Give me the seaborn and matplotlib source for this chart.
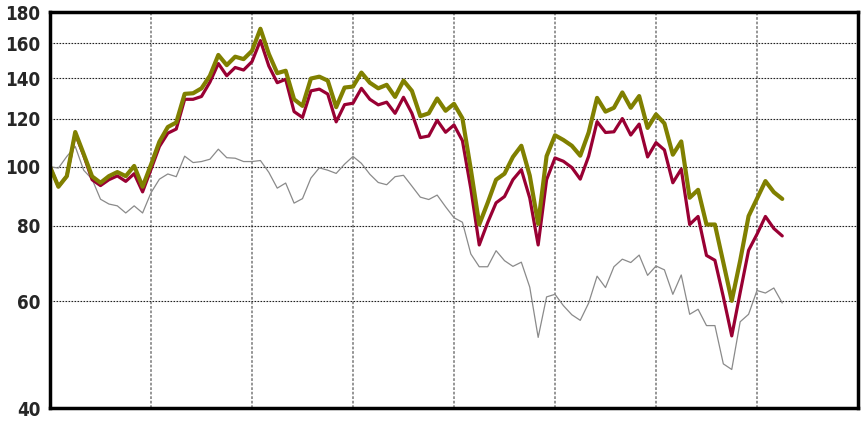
import matplotlib
matplotlib.use("Agg")
import matplotlib.pyplot as plt
from matplotlib import font_manager
from matplotlib.ticker import NullLocator, NullFormatter
import numpy as np
import pandas as pd
import seaborn as sns

# monthly index values
months = np.arange(88)

olive_vals = [100, 92.7, 96.5, 114.1, 105, 96.4, 94.1, 96.5, 98, 96.5,
              100.3, 92.7, 100.8, 110, 116.3, 118.3, 131.9, 132.2, 134.7, 141.3,
              152.9, 147.1, 151.9, 150.5, 155.3, 168.9, 153.5, 142.7, 144, 129.2,
              126.0, 139.8, 140.8, 138.7, 125.4, 135.1, 135.6, 143.0, 137.6, 134.7,
              136.5, 130.4, 138.7, 133.4, 121.2, 122.5, 129.6, 123.7, 127.0, 120.2,
              99, 80.3, 87.2, 95.2, 97.4, 103.8, 108.3, 96.7, 80.5, 104.1,
              112.7, 110.7, 108.3, 104.3, 113.9, 129.9, 123.3, 125.1, 132.6, 125.1,
              130.8, 115.9, 122, 117.9, 104.7, 110.1, 88.9, 91.6, 80.3, 80.3,
              69.5, 60.1, 70, 82.9, 88.6, 94.7, 90.8, 88.5]

red_vals = [100, 92.7, 96.5, 113.5, 104.5, 95.2, 93.1, 95.2, 96.6, 94.6,
            97.4, 90.9, 99, 108, 113.6, 115.4, 129.2, 129.2, 130.6, 137.9,
            148, 141.3, 145.8, 144.4, 149.1, 161.5, 146.6, 137.6, 139.4, 123.3,
            120.6, 133.4, 134.3, 131.8, 118.6, 126.6, 127.3, 134.7, 129.2, 126.5,
            127.8, 122.5, 130.2, 122.5, 111.7, 112.4, 119.3, 114.0, 117.2, 110.4,
            92, 74.3, 80.9, 87.2, 89.3, 95.2, 98.9, 88.8, 74.3, 95.2,
            103.4, 102.1, 99.7, 95.4, 104.1, 118.7, 113.9, 114.2, 120.1, 112.8,
            117.6, 103.8, 109.6, 106.6, 94.1, 99.1, 80.3, 82.8, 71.4, 70.1,
            61, 52.6, 62, 72.8, 77.4, 82.8, 79.1, 76.9]

gray_vals = [100, 99.5, 104, 108, 98.7, 95.4, 88.4, 86.8, 86.2, 83.9,
             86.2, 83.9, 90.6, 95.4, 97.3, 96.3, 104.1, 101.6, 102, 102.9,
             106.9, 103.5, 103.3, 102, 102, 102.4, 97.9, 92.2, 94, 87.1,
             88.6, 95.8, 99.6, 98.7, 97.5, 101, 104, 101.3, 97.2, 94.2,
             93.4, 96.3, 96.8, 92.9, 89.1, 88.3, 89.8, 85.9, 82.4, 81,
             71.8, 68.4, 68.4, 72.7, 70, 68.5, 69.6, 63.3, 52.3, 61,
             61.6, 59, 57, 55.8, 59.6, 66, 63.2, 68.4, 70.4, 69.5,
             71.5, 66.2, 68.6, 67.6, 61.6, 66.3, 57.1, 58.2, 54.7, 54.7,
             47.3, 46.3, 55.5, 57.1, 62.5, 61.9, 63.1, 59.6]

y_ticks = [40, 60, 80, 100, 120, 140, 160, 180]
year_marks = [12, 24, 36, 48, 60, 72, 84]

df = pd.DataFrame({"month": months, "olive": olive_vals,
                   "red": red_vals, "gray": gray_vals})

# pick a narrow bold face for the tick labels if one is installed
names = {f.name for f in font_manager.fontManager.ttflist}
dv_cond = any(f.name == "DejaVu Sans" and str(f.stretch) in ("condensed", "semi-condensed", "400")
              and "Condensed" in f.fname for f in font_manager.fontManager.ttflist)
if "Liberation Sans Narrow" in names:
    lab_family, lab_stretch, lab_size = "Liberation Sans Narrow", "normal", 14.5
elif dv_cond:
    lab_family, lab_stretch, lab_size = "DejaVu Sans", "condensed", 13.5
elif "Roboto Condensed" in names:
    lab_family, lab_stretch, lab_size = "Roboto Condensed", "normal", 14
else:
    lab_family, lab_stretch, lab_size = "Liberation Sans", "normal", 13

sns.set_style("white")
plt.rcParams["font.family"] = [lab_family, "DejaVu Sans"]

fig = plt.figure(figsize=(8.62, 4.22), dpi=100)
ax = fig.add_axes([50 / 862, 14 / 422, 808 / 862, 396 / 422])

sns.lineplot(data=df, x="month", y="gray", color="#8a8a8a", lw=0.9, ax=ax)
sns.lineplot(data=df, x="month", y="red", color="#990033", lw=2.3, ax=ax)
sns.lineplot(data=df, x="month", y="olive", color="#808000", lw=3.0, ax=ax)

ax.set_yscale("log")
ax.set_ylim(40, 180)
ax.set_xlim(0, 96)
ax.set_yticks(y_ticks, labels=[str(v) for v in y_ticks])
ax.yaxis.set_minor_locator(NullLocator())
ax.yaxis.set_minor_formatter(NullFormatter())
ax.set_xticks(year_marks, labels=[])
ax.set_xlabel("")
ax.set_ylabel("")

ax.xaxis.grid(True, color="#8c8c8c", linestyle=(0, (1.5, 1)), lw=1.3)
ax.yaxis.grid(True, color="#222222", linestyle=(0, (1.5, 1.2)), lw=0.8)
ax.set_axisbelow(True)

ax.tick_params(axis="both", length=0)
ax.tick_params(axis="y", pad=7)
for lab in ax.get_yticklabels():
    lab.set_fontweight("bold")
    lab.set_fontsize(lab_size)
    lab.set_fontstretch(lab_stretch)

for sp in ax.spines.values():
    sp.set_visible(True)
    sp.set_color("black")
    sp.set_linewidth(2.5)

fig.savefig("out.png", dpi=100)
